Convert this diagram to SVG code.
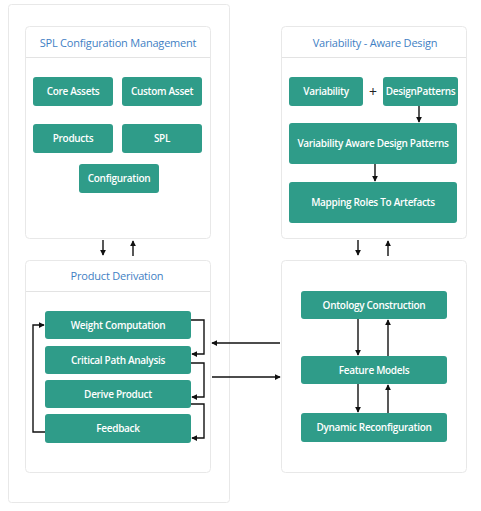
<svg xmlns="http://www.w3.org/2000/svg" width="481" height="511" viewBox="0 0 481 511">
<defs>
<marker id="ah" viewBox="0 0 8 8" refX="7" refY="4" markerWidth="6" markerHeight="6" orient="auto" markerUnits="userSpaceOnUse">
<path d="M0,0 L8,4 L0,8 z" fill="#111"/>
</marker>
</defs>
<style>
.panel{fill:#fff;stroke:#e8e8e8;stroke-width:1}
.hdr{stroke:#e3e3e3;stroke-width:1}
.title{font-family:"Open Sans","Noto Sans",sans-serif;font-size:11px;letter-spacing:-0.2px;fill:#3f7fc4;text-anchor:middle}
.btn{fill:#2f9c89}
.bt{font-family:"Open Sans","Noto Sans",sans-serif;font-size:10px;letter-spacing:-0.3px;font-weight:600;fill:#fff;text-anchor:middle}
.c{fill:none;stroke:#111;stroke-width:1.4}
.plus{font-family:"Open Sans","Noto Sans",sans-serif;font-size:14px;fill:#222;text-anchor:middle}
</style>
<rect x="0" y="0" width="481" height="511" fill="#fff"/>
<rect id="outer" class="panel" x="8.5" y="4.5" width="221" height="498" rx="3"/>

<g id="spl-panel">
<rect class="panel" x="25.5" y="26.5" width="185" height="212" rx="4"/>
<line class="hdr" x1="26" y1="57.5" x2="210" y2="57.5"/>
<text class="title" x="118" y="46.5">SPL Configuration  Management</text>
</g>
<g id="core-assets"><rect class="btn" x="33" y="77" width="80" height="29" rx="3"/><text class="bt" x="73" y="95">Core Assets</text></g>
<g id="custom-asset"><rect class="btn" x="122" y="77" width="80" height="29" rx="3"/><text class="bt" x="162" y="95">Custom Asset</text></g>
<g id="products"><rect class="btn" x="33" y="124" width="80" height="29" rx="3"/><text class="bt" x="73" y="142">Products</text></g>
<g id="spl"><rect class="btn" x="122" y="124" width="80" height="29" rx="3"/><text class="bt" x="162" y="142">SPL</text></g>
<g id="configuration"><rect class="btn" x="79" y="164" width="80" height="29" rx="3"/><text class="bt" x="119" y="182">Configuration</text></g>

<g id="vad-panel">
<rect class="panel" x="281.5" y="26.5" width="185" height="212" rx="4"/>
<line class="hdr" x1="282" y1="57.5" x2="466" y2="57.5"/>
<text class="title" x="375" y="46.5">Variability - Aware Design</text>
</g>
<g id="variability"><rect class="btn" x="289" y="77" width="74" height="29" rx="3"/><text class="bt" x="326" y="95">Variability</text></g>
<text class="plus" x="373" y="97">+</text>
<g id="designpatterns"><rect class="btn" x="383" y="77" width="75" height="29" rx="3"/><text class="bt" x="420.5" y="95">DesignPatterns</text></g>
<g id="vadp"><rect class="btn" x="289" y="123" width="168" height="41" rx="3"/><text class="bt" x="373" y="147">Variability Aware Design Patterns</text></g>
<g id="mapping"><rect class="btn" x="289" y="182" width="168" height="41" rx="3"/><text class="bt" x="373" y="206">Mapping Roles To Artefacts</text></g>

<g id="pd-panel">
<rect class="panel" x="25.5" y="260.5" width="185" height="212" rx="4"/>
<line class="hdr" x1="26" y1="291.5" x2="210" y2="291.5"/>
<text class="title" x="117" y="280">Product Derivation</text>
</g>
<g id="weight"><rect class="btn" x="45" y="311" width="146" height="28" rx="3"/><text class="bt" x="118" y="328.5">Weight Computation</text></g>
<g id="critical"><rect class="btn" x="45" y="346" width="146" height="28" rx="3"/><text class="bt" x="118" y="363.5">Critical Path Analysis</text></g>
<g id="derive"><rect class="btn" x="45" y="380" width="146" height="28" rx="3"/><text class="bt" x="118" y="397.5">Derive Product</text></g>
<g id="feedback"><rect class="btn" x="45" y="414" width="146" height="29" rx="3"/><text class="bt" x="118" y="432">Feedback</text></g>

<g id="onto-panel">
<rect class="panel" x="281.5" y="260.5" width="185" height="212" rx="4"/>
</g>
<g id="ontology"><rect class="btn" x="301" y="291" width="146" height="28" rx="3"/><text class="bt" x="374" y="308.5">Ontology Construction</text></g>
<g id="feature"><rect class="btn" x="301" y="356" width="146" height="28" rx="3"/><text class="bt" x="374" y="373.5">Feature Models</text></g>
<g id="dynamic"><rect class="btn" x="301" y="413" width="146" height="29" rx="3"/><text class="bt" x="374" y="431">Dynamic Reconfiguration</text></g>

<g id="connectors">
<path class="c" d="M103,240 V255" marker-end="url(#ah)"/>
<path class="c" d="M133,256 V241" marker-end="url(#ah)"/>
<path class="c" d="M358,240 V255" marker-end="url(#ah)"/>
<path class="c" d="M388,256 V241" marker-end="url(#ah)"/>
<path class="c" d="M419,106 V122" marker-end="url(#ah)"/>
<path class="c" d="M375,164 V181" marker-end="url(#ah)"/>
<path class="c" d="M191,320 H204 V354 H192" marker-end="url(#ah)"/>
<path class="c" d="M191,363 H204 V397 H192" marker-end="url(#ah)"/>
<path class="c" d="M191,404 H204 V438 H192" marker-end="url(#ah)"/>
<path class="c" d="M45,432 H33 V325 H44" marker-end="url(#ah)"/>
<path class="c" d="M280,343 H212" marker-end="url(#ah)"/>
<path class="c" d="M212,377 H280" marker-end="url(#ah)"/>
<path class="c" d="M358,319 V355" marker-end="url(#ah)"/>
<path class="c" d="M388,356 V320" marker-end="url(#ah)"/>
<path class="c" d="M358,384 V412" marker-end="url(#ah)"/>
<path class="c" d="M388,413 V385" marker-end="url(#ah)"/>
</g>
</svg>
